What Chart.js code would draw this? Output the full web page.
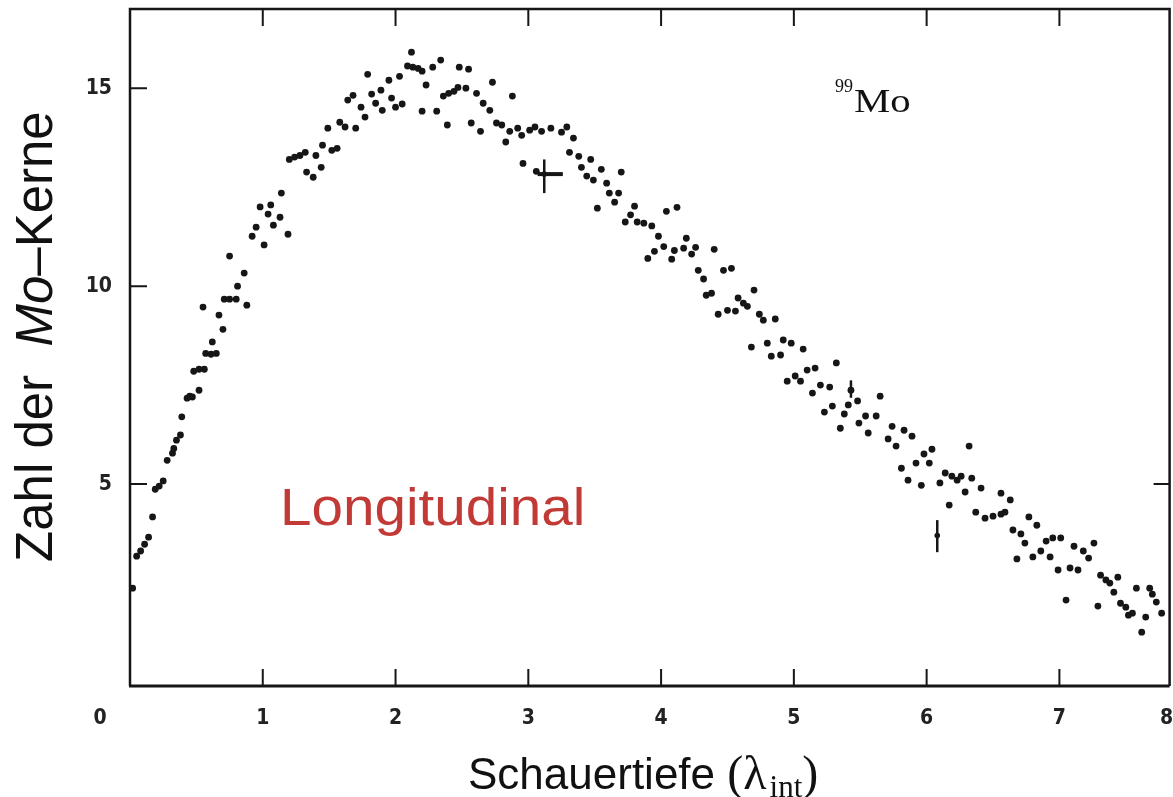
<!DOCTYPE html>
<html>
<head>
<meta charset="utf-8">
<script src="https://cdn.jsdelivr.net/npm/chart.js@4/dist/chart.umd.min.js"></script>
<style>
  html, body { margin: 0; padding: 0; background: #ffffff; }
  canvas { display: block; }
</style>
</head>
<body>
<canvas id="c" width="1173" height="797"></canvas>
<script>
// ---- data ----
const depth = [
  0.02,0.05,0.08,0.11,0.14,0.17,0.19,0.22,0.25,0.28,0.32,0.33,0.35,0.38,0.39,0.43,0.45,0.47,0.48,0.52,
  0.52,0.55,0.56,0.57,0.61,0.62,0.65,0.67,0.70,0.71,0.75,0.75,0.80,0.81,0.86,0.88,0.92,0.95,0.98,1.01,
  1.04,1.06,1.08,1.13,1.14,1.19,1.20,1.24,1.28,1.32,1.33,1.38,1.40,1.44,1.45,1.49,1.52,1.56,1.58,1.62,
  1.64,1.68,1.70,1.74,1.77,1.79,1.82,1.85,1.89,1.90,1.95,1.97,2.00,2.03,2.05,2.09,2.12,2.13,2.17,2.20,
  2.20,2.23,2.28,2.31,2.34,2.36,2.39,2.40,2.44,2.47,2.48,2.53,2.55,2.57,2.61,2.64,2.66,2.71,2.73,2.76,
  2.80,2.83,2.86,2.88,2.92,2.95,2.96,3.01,3.05,3.06,3.10,3.17,3.25,3.29,3.31,3.34,3.38,3.40,3.44,3.47,
  3.49,3.52,3.55,3.59,3.61,3.65,3.68,3.70,3.73,3.77,3.80,3.82,3.87,3.90,3.93,3.95,3.98,4.02,4.04,4.08,
  4.10,4.12,4.17,4.19,4.23,4.26,4.28,4.32,4.34,4.38,4.40,4.43,4.47,4.50,4.53,4.56,4.58,4.62,4.65,4.68,
  4.70,4.74,4.77,4.80,4.83,4.86,4.90,4.92,4.95,4.98,5.01,5.05,5.07,5.10,5.14,5.16,5.20,5.23,5.27,5.29,
  5.32,5.35,5.38,5.41,5.43,5.48,5.49,5.54,5.56,5.62,5.65,5.71,5.74,5.77,5.81,5.83,5.86,5.89,5.92,5.96,
  5.98,6.02,6.04,6.10,6.14,6.17,6.19,6.23,6.26,6.29,6.32,6.34,6.37,6.41,6.44,6.50,6.56,6.56,6.59,6.63,
  6.65,6.68,6.71,6.74,6.77,6.80,6.83,6.86,6.90,6.93,6.95,6.99,7.01,7.05,7.08,7.11,7.14,7.18,7.22,7.26,
  7.29,7.31,7.35,7.38,7.41,7.44,7.46,7.50,7.52,7.55,7.58,7.62,7.65,7.68,7.70,7.73,7.77
];
const moCount = [
  2.37,3.18,3.31,3.48,3.66,4.17,4.87,4.95,5.08,5.60,5.78,5.90,6.11,6.24,6.70,7.17,7.22,7.20,7.85,7.37,
  7.90,9.47,7.90,8.30,8.28,8.59,8.30,9.27,8.91,9.67,9.67,10.76,9.67,10.00,10.33,9.52,11.26,11.49,12.00,11.04,
  11.82,12.05,11.54,11.74,12.35,11.31,13.20,13.26,13.30,13.38,12.88,12.75,13.30,13.00,13.56,13.99,13.43,13.48,14.14,14.02,
  14.70,14.82,13.99,14.52,14.27,15.35,14.85,14.62,14.95,14.44,15.20,14.75,14.52,15.30,14.60,15.56,15.91,15.53,15.50,15.43,
  14.42,15.08,15.53,14.42,15.71,14.80,14.07,14.87,14.92,15.02,15.53,15.00,15.48,14.12,14.87,13.91,14.62,14.44,15.15,14.12,
  14.07,13.64,13.91,14.80,13.99,13.81,13.10,13.94,14.02,12.90,13.91,13.99,13.89,14.02,13.38,13.74,13.28,13.00,12.78,13.20,
  12.68,11.97,12.95,12.60,12.35,12.12,12.35,12.88,11.62,11.80,12.02,11.62,11.59,10.70,11.52,10.88,11.26,11.00,11.89,10.68,
  10.90,11.99,10.96,11.21,10.81,10.98,10.40,10.18,9.77,9.82,10.93,9.29,10.40,9.39,10.45,9.37,9.70,9.57,9.49,8.46,
  9.90,9.29,9.14,8.56,8.23,9.17,8.26,8.64,7.60,8.56,7.73,7.60,8.41,7.88,7.30,7.93,7.50,6.82,7.45,6.97,
  8.06,6.41,6.77,7.00,7.37,7.10,6.54,6.72,6.29,6.72,7.22,6.14,6.46,5.96,5.40,6.36,5.10,6.21,5.53,4.97,
  5.76,5.53,5.88,5.03,5.28,4.47,5.20,5.10,5.20,4.80,5.96,5.15,4.29,4.90,4.14,4.19,4.24,4.77,4.29,4.60,
  3.84,3.11,3.74,3.51,4.17,3.16,3.96,3.31,3.56,3.16,3.64,2.83,3.64,2.07,2.88,3.43,2.83,3.31,3.13,3.51,
  1.92,2.70,2.58,2.50,2.27,2.65,1.99,1.89,1.69,1.74,2.37,1.26,1.64,2.37,2.22,2.02,1.74
];
// error-bar markers
const errX   = [3.12, 6.08, 5.43];
const errY   = [12.83, 3.70, 7.37];
const errXlo = [3.07, 6.08, 5.43];
const errXhi = [3.26, 6.08, 5.43];
const errYlo = [12.35, 3.28, 7.18];
const errYhi = [13.20, 4.09, 7.62];

const xTickValues = [1, 2, 3, 4, 5, 6, 7];
const yTickValues = [5, 10, 15];
const xEdgeLabels = ['0', '8'];
const xTitle = 'Schauertiefe';
const yTitleParts = ['Zahl der  ', 'Mo', '\u2013Kerne'];
const insideLabel = 'Longitudinal';
const isotopeMass = '99';
const isotopeName = 'Mo';

const points = depth.map((d, i) => ({ x: d, y: moCount[i] }));

const INK = '#161616';
const TICK_FAMILY = '"DejaVu Sans Condensed", "DejaVu Sans", sans-serif';
const tickFont = { family: TICK_FAMILY, size: 21, weight: 'bold' };

const decor = {
  id: 'decor',
  afterDraw(chart) {
    const { ctx, chartArea: a, scales: { x, y } } = chart;
    ctx.save();
    ctx.strokeStyle = INK;
    ctx.lineCap = 'butt';
    // frame
    ctx.lineWidth = 2.5;
    ctx.beginPath();
    ctx.moveTo(a.left, a.bottom); ctx.lineTo(a.left, a.top);
    ctx.lineTo(a.right, a.top); ctx.lineTo(a.right, a.bottom);
    ctx.stroke();
    ctx.lineWidth = 3.2;
    ctx.beginPath(); ctx.moveTo(a.left - 1, a.bottom); ctx.lineTo(a.right, a.bottom); ctx.stroke();
    // inward ticks
    ctx.lineWidth = 2;
    ctx.beginPath();
    xTickValues.forEach(v => {
      const px = x.getPixelForValue(v);
      ctx.moveTo(px, a.bottom); ctx.lineTo(px, a.bottom - 17);
      ctx.moveTo(px, a.top); ctx.lineTo(px, a.top + 17);
    });
    yTickValues.forEach(v => {
      const py = y.getPixelForValue(v);
      ctx.moveTo(a.left, py); ctx.lineTo(a.left + 17, py);
    });
    const pr = y.getPixelForValue(5);
    ctx.moveTo(a.right, pr); ctx.lineTo(a.right - 16, pr);
    ctx.stroke();
    // error bars
    for (let i = 0; i < errX.length; i++) {
      const cx = x.getPixelForValue(errX[i]);
      ctx.lineWidth = 2.5;
      ctx.beginPath();
      ctx.moveTo(cx, y.getPixelForValue(errYlo[i]));
      ctx.lineTo(cx, y.getPixelForValue(errYhi[i]));
      ctx.stroke();
      if (errXhi[i] > errXlo[i]) {
        ctx.lineWidth = 4;
        const cy = y.getPixelForValue(errY[i]);
        ctx.beginPath();
        ctx.moveTo(x.getPixelForValue(errXlo[i]), cy);
        ctx.lineTo(x.getPixelForValue(errXhi[i]), cy);
        ctx.stroke();
      }
      ctx.fillStyle = INK;
      ctx.beginPath();
      ctx.arc(cx, y.getPixelForValue(errY[i]), 2.8, 0, Math.PI * 2);
      ctx.fill();
    }
    // edge tick labels
    ctx.fillStyle = '#222';
    ctx.font = 'bold 21px ' + TICK_FAMILY;
    ctx.textAlign = 'center';
    ctx.textBaseline = 'middle';
    const ly = a.bottom + 33;
    ctx.fillText(xEdgeLabels[0], a.left - 30, ly);
    ctx.fillText(xEdgeLabels[1], a.right - 3, ly);

    // x title
    ctx.fillStyle = '#111';
    ctx.textAlign = 'left';
    ctx.textBaseline = 'alphabetic';
    let tx = 468;
    const tb = 789;
    ctx.font = '44px "Liberation Sans", Arial, sans-serif';
    ctx.fillText(xTitle + ' ', tx, tb);
    tx += ctx.measureText(xTitle + ' ').width;
    ctx.font = '48px "Liberation Serif", "Times New Roman", serif';
    ctx.fillText('(\u03bb', tx, tb);
    tx += ctx.measureText('(\u03bb').width;
    ctx.font = '31px "Liberation Serif", "Times New Roman", serif';
    ctx.fillText('int', tx + 3, tb + 8);
    tx += ctx.measureText('int').width + 3;
    ctx.font = '48px "Liberation Serif", "Times New Roman", serif';
    ctx.fillText(')', tx, tb);

    // y title (rotated)
    ctx.save();
    ctx.translate(52, 562);
    ctx.rotate(-Math.PI / 2);
    let ox = 0;
    ctx.font = '51px "Liberation Sans", Arial, sans-serif';
    ctx.fillText(yTitleParts[0], ox, 0);
    ox += ctx.measureText(yTitleParts[0]).width;
    ctx.font = 'italic 51px "Liberation Sans", Arial, sans-serif';
    ctx.fillText(yTitleParts[1], ox, 0);
    ox += ctx.measureText(yTitleParts[1]).width;
    ctx.font = '51px "Liberation Sans", Arial, sans-serif';
    ctx.fillText(yTitleParts[2], ox, 0);
    ctx.restore();

    // inside label (slightly wide, as in the scan)
    ctx.save();
    ctx.fillStyle = '#c13a36';
    ctx.font = '51px "Liberation Sans", Arial, sans-serif';
    ctx.translate(280, 525);
    ctx.scale(1.11, 1);
    ctx.fillText(insideLabel, 0, 0);
    ctx.restore();

    // isotope
    ctx.fillStyle = '#111';
    ctx.font = '18px "Liberation Serif", "Times New Roman", serif';
    ctx.fillText(isotopeMass, 835, 92);
    const mw = ctx.measureText(isotopeMass).width;
    ctx.save();
    ctx.translate(835 + mw + 1, 112);
    ctx.scale(1.2, 1);
    ctx.font = '34px "Liberation Serif", "Times New Roman", serif';
    ctx.fillText(isotopeName, 0, 0);
    ctx.restore();
    ctx.restore();
  }
};

new Chart(document.getElementById('c'), {
  type: 'scatter',
  data: {
    datasets: [{
      data: points,
      pointRadius: 3.4,
      pointHoverRadius: 3.4,
      pointStyle: 'circle',
      backgroundColor: INK,
      borderWidth: 0
    }]
  },
  options: {
    responsive: false,
    animation: false,
    events: [],
    layout: { padding: { top: 9, right: 1, left: 0, bottom: 0 } },
    plugins: { legend: { display: false }, tooltip: { enabled: false }, title: { display: false } },
    scales: {
      x: {
        type: 'linear',
        min: 0,
        max: 7.83,
        afterBuildTicks: s => { s.ticks = xTickValues.map(v => ({ value: v })); },
        afterFit: s => { s.height = 111; s.paddingLeft = 0; s.paddingRight = 0; s.paddingTop = 0; s.paddingBottom = 0; },
        grid: { display: false, drawTicks: false },
        border: { display: false },
        ticks: { font: tickFont, color: '#222', padding: 20, maxRotation: 0, autoSkip: false }
      },
      y: {
        type: 'linear',
        min: -0.1,
        max: 17.0,
        afterBuildTicks: s => { s.ticks = yTickValues.map(v => ({ value: v })); },
        afterFit: s => { s.width = 130; s.paddingLeft = 0; s.paddingRight = 0; s.paddingTop = 0; s.paddingBottom = 0; },
        grid: { display: false, drawTicks: false },
        border: { display: false },
        ticks: { font: tickFont, color: '#222', padding: 18, autoSkip: false }
      }
    }
  },
  plugins: [decor]
});
</script>
</body>
</html>
